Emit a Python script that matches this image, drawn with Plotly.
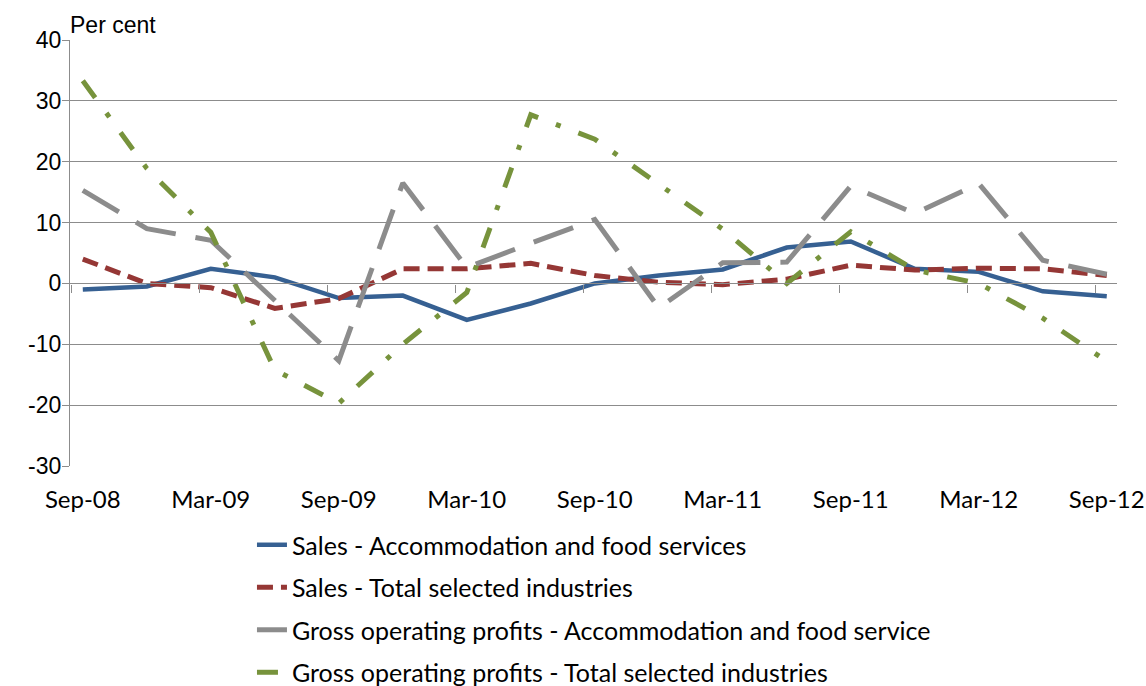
import plotly.graph_objects as go

quarters = ["Sep-08", "Dec-08", "Mar-09", "Jun-09", "Sep-09", "Dec-09", "Mar-10", "Jun-10",
            "Sep-10", "Dec-10", "Mar-11", "Jun-11", "Sep-11", "Dec-11", "Mar-12", "Jun-12", "Sep-12"]

sales_accom = [-1.0, -0.5, 2.4, 1.0, -2.4, -2.0, -6.0, -3.3, 0.0, 1.3, 2.3, 5.9, 6.9, 2.4, 1.9, -1.3, -2.1]
sales_total = [4.0, 0.0, -0.7, -4.1, -2.5, 2.4, 2.4, 3.3, 1.3, 0.2, -0.2, 0.7, 3.0, 2.2, 2.5, 2.4, 1.3]
gop_accom = [15.3, 9.0, 7.1, -2.8, -12.7, 16.5, 2.6, 6.6, 10.5, -4.0, 3.4, 3.5, 16.0, 11.5, 16.4, 3.8, 1.5]
gop_total = [33.3, 18.9, 8.4, -14.2, -19.7, -10.0, -1.5, 27.7, 23.7, 16.3, 8.9, 0.0, 8.5, 2.2, 0.0, -5.7, -12.8]

names = ["Sales - Accommodation and food services",
         "Sales - Total selected industries",
         "Gross operating profits - Accommodation and food service",
         "Gross operating profits - Total selected industries"]

y_ticks = [-30, -20, -10, 0, 10, 20, 30, 40]
y_ticktext = ["-30", "-20", "-10", "0", "10", "20", "30", "40"]

CAL = "Lato, 'Open Sans', sans-serif"
ARI = "'Liberation Sans', Arial, sans-serif"
GRID = "#8c8c8c"
idx = list(range(len(quarters)))

fig = go.Figure()
styles = [
    dict(color="#366092", width=4.5, dash="solid"),
    dict(color="#953735", width=5, dash="16px,8px"),
    dict(color="#8c8c8c", width=5, dash="42px,20px"),
    dict(color="#77933c", width=5, dash="21px,19px,5px,19px"),
]
series = [sales_accom, sales_total, gop_accom, gop_total]
for k, (nm, vals, st) in enumerate(zip(names, series, styles)):
    fig.add_trace(go.Scatter(x=idx, y=vals, mode="lines", name=nm, line=st,
                             legendgroup=str(k), hoverinfo="skip"))

xr = [-0.2, 16.16]
fig.update_layout(
    width=1146, height=686,
    margin=dict(l=70, r=29, t=40, b=220, autoexpand=False),
    plot_bgcolor="white", paper_bgcolor="white",
    font=dict(family=CAL, size=25, color="black"),
    showlegend=True,
    legend=dict(x=0.1738, y=-0.1315, xanchor="left", yanchor="top",
                tracegroupgap=7, traceorder="grouped",
                font=dict(family=CAL, size=25, color="black"),
                bgcolor="rgba(0,0,0,0)"),
    xaxis=dict(range=xr, tickmode="array", tickvals=idx[::2], ticktext=quarters[::2],
               showgrid=False, zeroline=False, showline=False, automargin=False,
               ticks="outside", ticklen=12, tickcolor="rgba(0,0,0,0)",
               tickfont=dict(family=CAL, size=24, color="black")),
    xaxis2=dict(range=xr, overlaying="x", anchor="free", position=3/7,
                tickmode="array", tickvals=[i - 0.17 for i in idx[::2]],
                showticklabels=False, ticks="outside", ticklen=8, tickcolor=GRID,
                tickwidth=1.3, showline=True, linecolor=GRID, linewidth=1.3,
                showgrid=False, zeroline=False),
    yaxis=dict(range=[-30, 40], tickmode="array", tickvals=y_ticks, ticktext=y_ticktext,
               showgrid=True, gridcolor=GRID, gridwidth=1.3, automargin=False,
               zeroline=True, zerolinecolor=GRID, zerolinewidth=1.3,
               showline=True, linecolor=GRID, linewidth=1.3,
               ticks="outside", ticklen=7, tickcolor=GRID, tickwidth=1.3,
               ticklabelstandoff=-4,
               tickfont=dict(family=ARI, size=23, color="black")),
    annotations=[dict(text="Per cent", xref="paper", yref="paper", x=-0.0019, y=1.0352,
                      xanchor="left", yanchor="middle", showarrow=False,
                      font=dict(family=ARI, size=23, color="black"))],
)
# invisible helper trace so the zero-crossing axis (ticks at y=0) is drawn
fig.add_trace(go.Scatter(x=[xr[0]], y=[0], xaxis="x2", mode="markers",
                         marker=dict(opacity=0), showlegend=False, hoverinfo="skip"))

fig.write_html("out.html", config={"displayModeBar": False},
               post_script="document.body.style.margin='0px';document.body.style.overflow='hidden';")
